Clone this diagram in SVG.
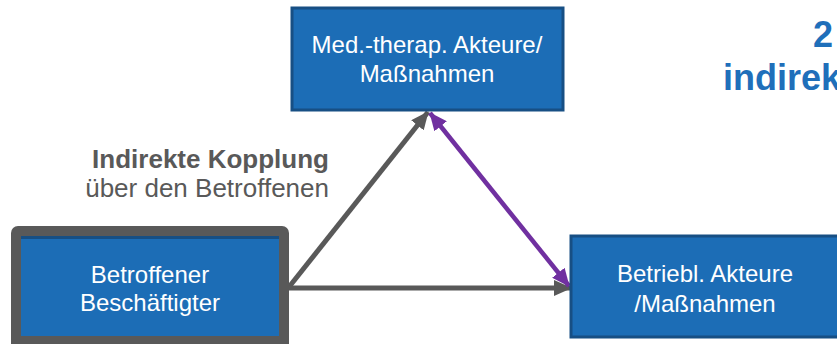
<svg xmlns="http://www.w3.org/2000/svg" width="837" height="344" viewBox="0 0 837 344">
<defs>
<style>
.box{fill:#1c6db6;stroke:#174f84;stroke-width:3}
.nt{font-family:"Liberation Sans",Arial,sans-serif;font-size:24px;fill:#ffffff;text-anchor:middle}
.lbl{font-family:"Liberation Sans",Arial,sans-serif;font-size:26px;fill:#595959;text-anchor:end}
.ttl{font-family:"Liberation Sans",Arial,sans-serif;font-size:36px;font-weight:bold;fill:#1f6fba}
.gl{stroke:#595959;stroke-width:5;fill:none}
.pl{stroke:#7030a0;stroke-width:4.5;fill:none}
</style>
<marker id="ag" markerWidth="18" markerHeight="16" refX="17" refY="8" orient="auto" markerUnits="userSpaceOnUse"><path d="M0,0 L18,8 L0,16 z" fill="#595959"/></marker>
<marker id="ap" markerWidth="18" markerHeight="16" refX="17" refY="8" orient="auto" markerUnits="userSpaceOnUse"><path d="M0,0 L18,8 L0,16 z" fill="#7030a0"/></marker>
<marker id="aps" markerWidth="18" markerHeight="16" refX="1" refY="8" orient="auto" markerUnits="userSpaceOnUse"><path d="M18,0 L0,8 L18,16 z" fill="#7030a0"/></marker>
</defs>
<g id="connectors">
<path class="gl" d="M289,287 L428,112" marker-end="url(#ag)"/>
<path class="gl" d="M289,288 L571,288" marker-end="url(#ag)"/>
<path class="pl" d="M430,113 L569,286" marker-start="url(#aps)" marker-end="url(#ap)"/>
</g>
<g id="node-med">
<rect class="box" x="292" y="8" width="271" height="102"/>
<text class="nt" x="427" y="53">Med.-therap. Akteure/</text>
<text class="nt" x="427" y="82">Maßnahmen</text>
</g>
<g id="node-betroffener">
<rect x="11" y="226" width="278" height="130" rx="7" fill="#595959"/>
<rect x="21" y="236" width="258" height="100" fill="#1c6db6"/>
<rect x="21" y="236" width="258" height="3" fill="#174f84"/>
<text class="nt" x="150" y="283">Betroffener</text>
<text class="nt" x="150" y="311">Beschäftigter</text>
</g>
<g id="node-betrieb">
<rect class="box" x="571" y="236" width="270" height="101"/>
<text class="nt" x="705" y="282">Betriebl. Akteure</text>
<text class="nt" x="705" y="312">/Maßnahmen</text>
</g>
<g id="label">
<text class="lbl" x="329" y="168" font-weight="bold">Indirekte Kopplung</text>
<text class="lbl" x="329" y="197">über den Betroffenen</text>
</g>
<g id="title">
<text class="ttl" x="813" y="47">2</text>
<text class="ttl" x="723" y="90">indirek</text>
</g>
</svg>
